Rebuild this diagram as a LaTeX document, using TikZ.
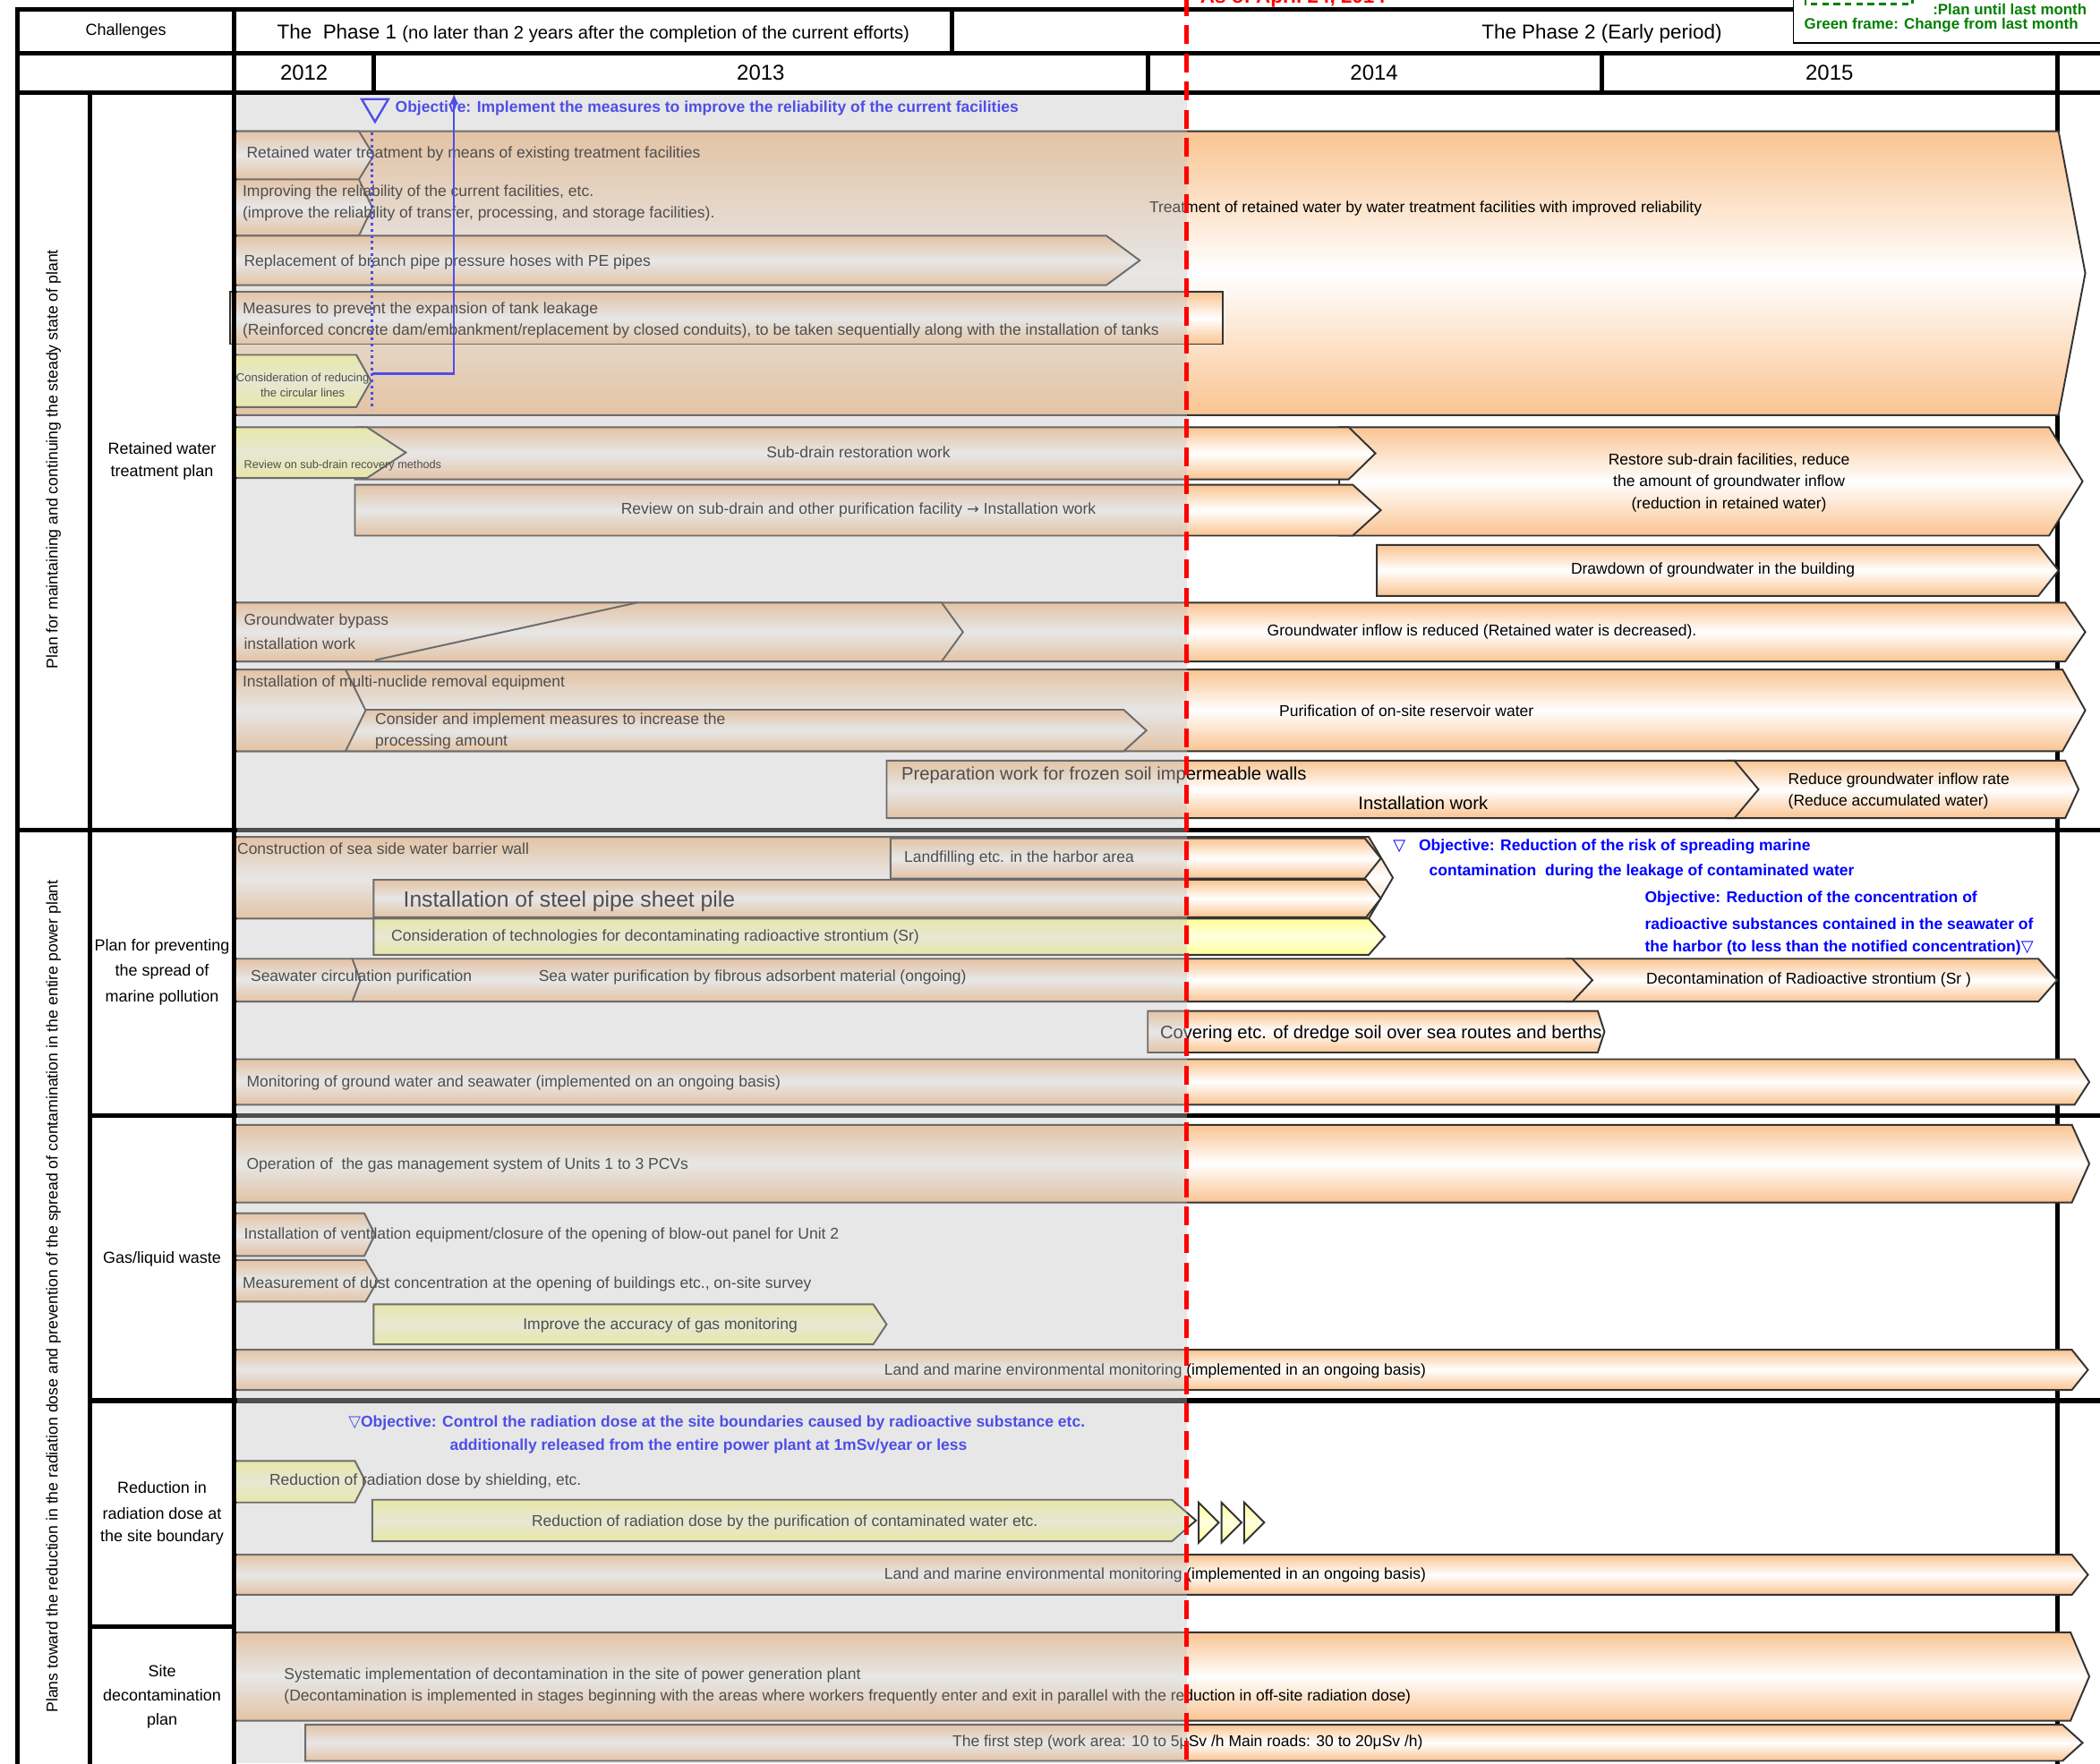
\documentclass[tikz,border=0pt]{standalone}
\usepackage{fontspec}
\setmainfont{Liberation Sans}
\newfontfamily\dvs{DejaVu Sans}
\usetikzlibrary{arrows.meta}
\definecolor{borg}{RGB}{250,196,145}
\definecolor{byel}{RGB}{255,255,150}
\definecolor{objblue}{RGB}{0,0,255}
\definecolor{lgreen}{RGB}{0,128,0}
\definecolor{ovl}{RGB}{195,195,195}
\newcommand\fsz[1]{\fontsize{#1}{#1}\selectfont}
\newcommand\gbar[6][obar]{\path[#1] (#2,#3) -- (#4,#3) -- (#6,{(#3+#5)/2}) -- (#4,#5) -- (#2,#5) -- cycle;}
\tikzset{
  obar/.style={draw=black!80, line width=1.3pt, top color=borg, bottom color=borg, middle color=white},
  ybar/.style={draw=black!80, line width=1.3pt, top color=byel, bottom color=byel, middle color=byel!30},
  lbl/.style={inner sep=0pt, anchor=west, font=\fsz{11.7}},
  clbl/.style={inner sep=0pt, font=\fsz{11.7}},
  collbl/.style={inner sep=0pt, font=\fsz{12}},
  obj/.style={inner sep=0pt, anchor=west, font=\fsz{11.7}\bfseries, text=objblue},
  grid/.style={line width=3.5pt, line cap=rect},
}
\begin{document}
\begin{tikzpicture}[x=1pt,y=-1pt]
\clip (0,0) rectangle (1568,1317);
\fill[white] (0,0) rectangle (1568,1317);
\draw[grid] (1536,40) -- (1536,1317);
% ---------- section 1 bars
\gbar{175}{98}{1537}{310}{1557}
\gbar{175}{98}{268}{134}{279}
\gbar{175}{134}{268}{176}{278}
\gbar{175}{176}{826}{213}{851}
\gbar{172}{218}{913}{257}{913}
\gbar[ybar]{175}{265}{266}{304}{277}
\gbar{1000}{319}{1530}{400}{1555}
\gbar{265}{319}{1007}{358}{1027}
\gbar[ybar]{175}{319}{274}{357}{303}
\gbar{265}{362}{1010}{400}{1031}
\gbar{1028}{407}{1522}{445}{1537}
\gbar{175}{450}{1542}{494}{1557}
\gbar{175}{450}{703}{494}{719}
\draw[black!80, line width=1.3pt] (280,493) -- (476,450);
\gbar{175}{500}{1540}{561}{1557}
\gbar{258}{530}{839}{561}{856}
\gbar{175}{500}{258}{561}{273}
\gbar{1290}{568}{1542}{611}{1552}
\gbar{662}{568}{1295}{611}{1313}
% ---------- section 2 bars
\gbar{175}{625}{1022}{686}{1040}
\gbar{665}{626}{1019}{656}{1031}
\gbar{279}{657}{1020}{685}{1031}
\gbar[ybar]{279}{686}{1022}{713}{1034}
\gbar{1170}{716}{1522}{748}{1536}
\gbar{263}{716}{1174}{748}{1189}
\gbar{175}{716}{263}{748}{269}
\gbar{857}{755}{1193}{786}{1198}
\gbar{175}{791}{1549}{825}{1560}
\gbar{175}{840}{1547}{898}{1560}
\gbar{175}{906}{272}{938}{280}
\gbar{175}{941}{273}{972}{282}
\gbar[ybar]{279}{974}{652}{1004}{662}
\gbar{175}{1008}{1547}{1038}{1559}
\gbar[ybar]{175}{1091}{265}{1122}{273}
\gbar[ybar]{278}{1120}{875}{1151}{893}
\path[ybar] (895,1122) -- (910,1137) -- (895,1152) -- cycle;
\path[ybar] (912,1122) -- (927,1137) -- (912,1152) -- cycle;
\path[ybar] (929,1122) -- (944,1137) -- (929,1152) -- cycle;
\gbar{175}{1161}{1547}{1191}{1559}
\gbar{175}{1219}{1546}{1285}{1560}
\gbar{228}{1288}{1540}{1315}{1555}
% ---------- bar texts
\node[lbl] (t1) at (858,156) {Treatment of retained water by water treatment facilities with improved reliability};
\node[lbl] (t2) at (184,115) {Retained water treatment by means of existing treatment facilities};
\node[lbl] (t3a) at (181,144) {Improving the reliability of the current facilities, etc.};
\node[lbl] (t3b) at (181,160) {(improve the reliability of transfer, processing, and storage facilities).};
\node[lbl] (t4) at (182,196) {Replacement of branch pipe pressure hoses with PE pipes};
\node[lbl] (t5a) at (181,231) {Measures to prevent the expansion of tank leakage};
\node[lbl] (t5b) at (181,247) {(Reinforced concrete dam/embankment/replacement by closed conduits), to be taken sequentially along with the installation of tanks};
\node[inner sep=0pt, font=\fsz{8.7}] (t6a) at (226,282.5) {Consideration of reducing};
\node[inner sep=0pt, font=\fsz{8.7}] (t6b) at (226,293.5) {the circular lines};
\node[clbl] (t7) at (641,338) {Sub-drain restoration work};
\node[inner sep=0pt, anchor=west, font=\fsz{8.5}] (t8) at (182,348) {Review on sub-drain recovery methods};
\node[clbl] (t9a) at (1291,344) {Restore sub-drain facilities, reduce};
\node[clbl] (t9b) at (1291,360) {the amount of groundwater inflow};
\node[clbl] (t9c) at (1291,377) {(reduction in retained water)};
\node[clbl] (t10) at (641,381) {Review on sub-drain and other purification facility {\dvs\fsz{11}→} Installation work};
\node[clbl] (t11) at (1279,426) {Drawdown of groundwater in the building};
\node[lbl] (t12) at (946,472) {Groundwater inflow is reduced (Retained water is decreased).};
\node[lbl] (t13a) at (182,464) {Groundwater bypass};
\node[lbl] (t13b) at (182,481) {installation work};
\node[lbl] (t14) at (955,531) {Purification of on-site reservoir water};
\node[lbl] (t16) at (181,510) {Installation of multi-nuclide removal equipment};
\node[lbl] (t15a) at (280,538) {Consider and implement measures to increase the};
\node[lbl] (t15b) at (280,554) {processing amount};
\node[inner sep=0pt, anchor=west, font=\fsz{13.5}] (t17) at (673,579) {Preparation work for frozen soil impermeable walls};
\node[inner sep=0pt, anchor=west, font=\fsz{13.5}] (t17b) at (1014,600) {Installation work};
\node[lbl] (t18a) at (1335,583) {Reduce groundwater inflow rate};
\node[lbl] (t18b) at (1335,599) {(Reduce accumulated water)};
\node[lbl] (t19) at (177,634) {Construction of sea side water barrier wall};
\node[lbl] (t20) at (675,641) {Landfilling etc. in the harbor area};
\node[inner sep=0pt, anchor=west, font=\fsz{16.5}] (t21) at (301,673) {Installation of steel pipe sheet pile};
\node[lbl] (t22) at (292,700) {Consideration of technologies for decontaminating radioactive strontium (Sr)};
\node[lbl] (t25) at (187,730) {Seawater circulation purification};
\node[lbl] (t24) at (402,730) {Sea water purification by fibrous adsorbent material (ongoing)};
\node[lbl] (t23) at (1229,732) {Decontamination of Radioactive strontium (Sr~)};
\node[inner sep=0pt, anchor=west, font=\fsz{13.5}] (t26) at (866,772) {Covering etc. of dredge soil over sea routes and berths};
\node[lbl] (t27) at (184,809) {Monitoring of ground water and seawater (implemented on an ongoing basis)};
\node[lbl] (t28) at (184,870) {Operation of~ the gas management system of Units 1 to 3 PCVs};
\node[lbl] (t29) at (182,922) {Installation of ventilation equipment/closure of the opening of blow-out panel for Unit 2};
\node[lbl] (t30) at (181,959) {Measurement of dust concentration at the opening of buildings etc., on-site survey};
\node[clbl] (t31) at (493,990) {Improve the accuracy of gas monitoring};
\node[lbl] (t32) at (660,1024) {Land and marine environmental monitoring (implemented in an ongoing basis)};
\node[lbl] (t33) at (201,1106) {Reduction of radiation dose by shielding, etc.};
\node[clbl] (t34) at (586,1137) {Reduction of radiation dose by the purification of contaminated water etc.};
\node[lbl] (t35) at (660,1176) {Land and marine environmental monitoring (implemented in an ongoing basis)};
\node[lbl] (t36a) at (212,1251) {Systematic implementation of decontamination in the site of power generation plant};
\node[lbl] (t36b) at (212,1267) {(Decontamination is implemented in stages beginning with the areas where workers frequently enter and exit in parallel with the reduction in off-site radiation dose)};
\node[lbl] (t37) at (711,1301) {The first step (work area: 10 to 5μSv /h Main roads: 30 to 20μSv /h)};
% ---------- objectives
\draw[objblue, line width=1.6pt] (270,74) -- (290,74) -- (280,91) -- cycle;
\node[obj] (o1) at (295,81) {Objective: Implement the measures to improve the reliability of the current facilities};
\node[obj] (o2a) at (1040,632) {{\dvs\fsz{12}▽}\hspace{10pt}Objective: Reduction of the risk of spreading marine};
\node[obj] (o2b) at (1067,651) {contamination~ during the leakage of contaminated water};
\node[obj] (o3a) at (1228,671) {Objective: Reduction of the concentration of};
\node[obj] (o3b) at (1228,690) {radioactive substances contained in the seawater of};
\node[obj] (o3c) at (1228,708) {the harbor (to less than the notified concentration){\dvs\fsz{12}▽}};
\node[obj] (o4a) at (260,1063) {{\dvs\fsz{12}▽}Objective: Control the radiation dose at the site boundaries caused by radioactive substance etc.};
\node[obj, anchor=center] (o4b) at (529,1080) {additionally released from the entire power plant at 1mSv/year or less};
% ---------- blue lines
\coordinate (dt0) at (278,99);
\coordinate (dt1) at (278,306);
\draw[objblue, line width=2pt, dash pattern=on 2pt off 2.5pt] (dt0) -- (dt1);
\coordinate (bl0) at (278,279);
\coordinate (bl1) at (339,70);
\draw[objblue, line width=1.5pt, -{Latex[length=8pt,width=7pt]}] (bl0) -| (bl1);
% ---------- grid
\draw[grid] (13,7) -- (1339,7);
\draw[grid] (13,40) -- (1568,40);
\draw[grid] (13,69) -- (1568,69);
\draw[grid] (13,7) -- (13,1317);
\draw[grid] (67,69) -- (67,1317);
\draw[grid] (711,7) -- (711,40);
\draw[grid] (279,40) -- (279,69);
\draw[grid] (857,40) -- (857,69);
\draw[grid] (1196,40) -- (1196,69);
\draw[grid] (13,620) -- (1568,620);
\draw[grid] (67,833) -- (1568,833);
\draw[grid] (67,1046) -- (1568,1046);
\draw[grid] (67,1215) -- (175,1215);
% ---------- past overlay
\fill[ovl, opacity=0.4] (177,71) rectangle (886,1317);
\draw[grid] (175,7) -- (175,1317);
% ---------- red line
\draw[red, line width=3pt, dash pattern=on 14pt off 7pt] (886,-2) -- (886,1317);
\node[anchor=base west, inner sep=0pt, text=red, font=\fsz{15}\bfseries] (asof) at (896,2.5) {As of April 24, 2014};
% ---------- legend
\draw[black, line width=1.2pt, fill=white] (1339,-5) rectangle (1575,32);
\draw[lgreen, line width=1.5pt, dash pattern=on 5pt off 3.5pt] (1348,-10) rectangle (1428,3);
\node[anchor=west, inner sep=0pt, text=lgreen, font=\fsz{11.3}\bfseries] (leg1) at (1443,7) {:Plan until last month};
\node[anchor=west, inner sep=0pt, text=lgreen, font=\fsz{11.3}\bfseries] (leg2) at (1347,18.5) {Green frame: Change from last month};
% ---------- header
\node[collbl] (chal) at (94,23) {Challenges};
\node[inner sep=0pt] (ph1) at (443,25) {\fsz{15}The~ Phase 1 \fsz{13.5}(no later than 2 years after the completion of the current efforts)};
\node[inner sep=0pt, font=\fsz{15}] (ph2) at (1196,25) {The Phase 2 (Early period)};
\node[inner sep=0pt, font=\fsz{16}] (y12) at (227,54) {2012};
\node[inner sep=0pt, font=\fsz{16}] (y13) at (568,54) {2013};
\node[inner sep=0pt, font=\fsz{16}] (y14) at (1026,54) {2014};
\node[inner sep=0pt, font=\fsz{16}] (y15) at (1366,54) {2015};
% ---------- left columns
\node[rotate=90, inner sep=0pt, font=\fsz{11.8}] (v1) at (40,343) {Plan for maintaining and continuing the steady state of plant};
\node[rotate=90, inner sep=0pt, font=\fsz{11.8}] (v2) at (40,968) {Plans toward the reduction in the radiation dose and prevention of the spread of contamination in the entire power plant};
\node[collbl] (c1a) at (121,335) {Retained water};
\node[collbl] (c1b) at (121,353) {treatment plan};
\node[collbl] (c2a) at (121,707) {Plan for preventing};
\node[collbl] (c2b) at (121,726) {the spread of};
\node[collbl] (c2c) at (121,745) {marine pollution};
\node[collbl] (c3) at (121,940) {Gas/liquid waste};
\node[collbl] (c4a) at (121,1111) {Reduction in};
\node[collbl] (c4b) at (121,1130) {radiation dose at};
\node[collbl] (c4c) at (121,1148) {the site boundary};
\node[collbl] (c5a) at (121,1248) {Site};
\node[collbl] (c5b) at (121,1266) {decontamination};
\node[collbl] (c5c) at (121,1285) {plan};
\end{tikzpicture}
\end{document}
